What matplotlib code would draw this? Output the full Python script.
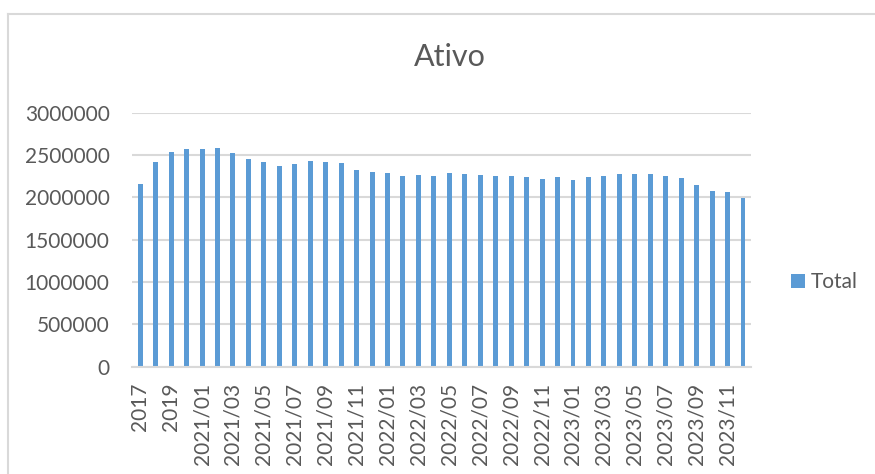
import numpy as np
import matplotlib
matplotlib.use("Agg")
import matplotlib.pyplot as plt
from matplotlib.lines import Line2D

plt.rcParams["font.family"] = ["Lato", "DejaVu Sans"]

# categories: annual first, then monthly
years = ["2017", "2018", "2019", "2020"]
months = [f"{y}/{m:02d}" for y in (2021, 2022, 2023) for m in range(1, 13)]
categories = years + months

total = [
    2161000, 2421000, 2532000, 2568000,
    2571000, 2587000, 2528000, 2453000, 2414000, 2374000,
    2394000, 2426000, 2421000, 2409000, 2327000, 2299000,
    2284000, 2256000, 2268000, 2256000, 2284000, 2272000,
    2268000, 2249000, 2249000, 2237000, 2220000, 2237000,
    2209000, 2244000, 2249000, 2272000, 2280000, 2272000,
    2256000, 2225000, 2150000, 2075000, 2067000, 1996000,
]

BAR_COLOR = "#5b9bd5"
TEXT_COLOR = "#595959"
GRID_COLOR = "#d9d9d9"

fig = plt.figure(figsize=(8.75, 4.74), dpi=100)
ax = fig.add_axes([0.1514, 0.2264, 0.8580 - 0.1514, 0.7622 - 0.2264])

x = np.arange(len(categories))
ax.bar(x, total, width=0.32, color=BAR_COLOR, label="Total", zorder=3)

ax.set_xlim(-0.5, len(categories) - 0.5)
ax.set_ylim(0, 3000000)
ax.set_yticks(np.arange(0, 3000001, 500000))
ax.set_yticklabels([str(v) for v in range(0, 3000001, 500000)])
ax.set_xticks(x[::2])
ax.set_xticklabels(categories[::2], rotation=90, va="top", ha="center")

ax.grid(axis="y", color=GRID_COLOR, linewidth=1.5, zorder=0)
for side in ["top", "right", "left"]:
    ax.spines[side].set_visible(False)
ax.spines["bottom"].set_color(GRID_COLOR)
ax.spines["bottom"].set_linewidth(1.5)
ax.spines["bottom"].set_zorder(4)

ax.tick_params(axis="y", length=0, pad=16.5, labelsize=15, labelcolor=TEXT_COLOR)
ax.tick_params(axis="x", length=0, pad=11.5, labelsize=15, labelcolor=TEXT_COLOR)

fig.text(449.7 / 875, 1 - 57 / 474, "Ativo", fontsize=22, color=TEXT_COLOR,
         ha="center", va="center")

fig.legend(loc="center left", bbox_to_anchor=(791 / 875, 1 - 282.5 / 474),
           frameon=False, fontsize=15, labelcolor=TEXT_COLOR,
           handlelength=0.65, handleheight=0.65, handletextpad=0.3,
           borderpad=0, borderaxespad=0)

# chart border (top and left edges visible)
fig.add_artist(Line2D([7.5 / 875, 1], [1 - 14 / 474, 1 - 14 / 474],
                      color=GRID_COLOR, linewidth=1.5, transform=fig.transFigure))
fig.add_artist(Line2D([7.5 / 875, 7.5 / 875], [0, 1 - 14 / 474],
                      color=GRID_COLOR, linewidth=1.5, transform=fig.transFigure))

fig.savefig("out.png", dpi=100)
